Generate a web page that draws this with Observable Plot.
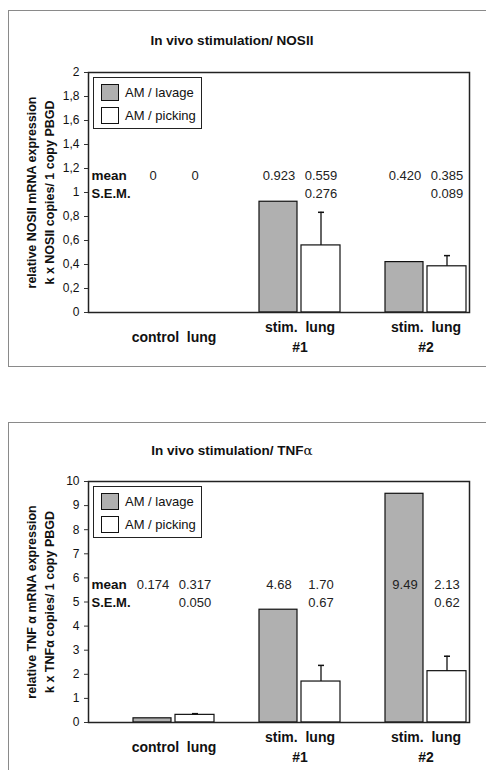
<!DOCTYPE html>
<html>
<head>
<meta charset="utf-8">
<script src="https://cdn.jsdelivr.net/npm/d3@7"></script>
<script src="https://cdn.jsdelivr.net/npm/@observablehq/plot@0.6"></script>
<style>
  html, body { margin: 0; padding: 0; background: #fff; overflow: hidden; }
  body { position: relative; width: 486px; height: 770px; font-family: "Liberation Sans", Arial, sans-serif; color: #111; }
  .panel { position: absolute; left: 0; width: 486px; overflow: hidden; }
  .box { position: absolute; left: 8px; top: 0; width: 700px; border: 1px solid #8a8a8a; }
  .title { position: absolute; left: 0; width: 464px; text-align: center; font-weight: bold; font-size: 13.5px; transform: translateY(-50%); }
  .legend { position: absolute; left: 93px; width: 107px; height: 50px; border: 1.5px solid #222; background: #fff; font-size: 13px; }
  .legend .row { position: absolute; left: 7px; height: 18px; display: flex; align-items: center; }
  .legend .sw { width: 18px; height: 17px; border: 1.2px solid #111; margin-right: 6px; box-sizing: border-box; }
  svg { position: absolute; left: 0; top: 0; }
</style>
</head>
<body>
<script>
// ---- data ----
const groups = ["control  lung", "stim.  lung\n#1", "stim.  lung\n#2"];
const series = ["AM / lavage", "AM / picking"];

// NOSII
const nosLavage = [0, 0.923, 0.420];
const nosPicking = [0, 0.559, 0.385];
const nosPickingSem = [0, 0.276, 0.089];
const nosLavageText = ["0", "0.923", "0.420"];
const nosPickingText = ["0", "0.559", "0.385"];
const nosSemText = ["", "0.276", "0.089"];
const nosYTicks = [0, 0.2, 0.4, 0.6, 0.8, 1, 1.2, 1.4, 1.6, 1.8, 2];

// TNF alpha
const tnfLavage = [0.174, 4.68, 9.49];
const tnfPicking = [0.317, 1.70, 2.13];
const tnfPickingSem = [0.050, 0.67, 0.62];
const tnfLavageText = ["0.174", "4.68", "9.49"];
const tnfPickingText = ["0.317", "1.70", "2.13"];
const tnfSemText = ["0.050", "0.67", "0.62"];
const tnfYTicks = [0, 1, 2, 3, 4, 5, 6, 7, 8, 9, 10];

const FONT = '"Liberation Sans", Arial, sans-serif';
const GRAY = "#b0b0b0";

function rows(lav, pic, sem, lavT, picT, semT) {
  return groups.map((g, i) => ({
    group: g, lavage: lav[i], picking: pic[i], sem: sem[i],
    top: pic[i] + sem[i], lavT: lavT[i], picT: picT[i], semT: semT[i]
  }));
}

function chart(cfg) {
  const panel = document.createElement("div");
  panel.className = "panel";
  panel.style.top = cfg.boxTop + "px";
  panel.style.height = (cfg.boxHeight + 2) + "px";

  const box = document.createElement("div");
  box.className = "box";
  box.style.height = cfg.boxHeight + "px";
  panel.appendChild(box);

  const data = cfg.data;
  const plot = Plot.plot({
    width: 486,
    height: cfg.svgHeight,
    marginTop: cfg.marginTop,
    marginBottom: cfg.svgHeight - cfg.marginTop - cfg.plotHeight,
    marginLeft: 88,
    marginRight: 17,
    style: { fontFamily: FONT, fontSize: "11.5px", color: "#111", background: "transparent", overflow: "visible" },
    x: { domain: groups, paddingInner: 0.354, paddingOuter: 0, insetLeft: 44, insetRight: 1, axis: null },
    y: { domain: cfg.yDomain, axis: null },
    marks: [
      Plot.barY(data, { x: "group", y: "lavage", insetRight: 43, fill: GRAY, stroke: "#111", strokeWidth: 1.2 }),
      Plot.barY(data, { x: "group", y: "picking", insetLeft: 42, fill: "#fff", stroke: "#111", strokeWidth: 1.2 }),
      Plot.ruleX(data.filter(d => d.sem > 0), { x: "group", y1: "picking", y2: "top", dx: 21, stroke: "#111", strokeWidth: 1.3 }),
      Plot.tickY(data.filter(d => d.sem > 0), { y: "top", x: "group", insetLeft: 59, insetRight: 16, stroke: "#111", strokeWidth: 1.5 }),
      Plot.frame({ stroke: "#222", strokeWidth: 1.5 }),
      Plot.axisY({ ticks: cfg.yTicks, tickFormat: d => String(d).replace(".", ","), tickSize: 4, tickPadding: 5, fontSize: 12, stroke: "#333" }),
      Plot.text([cfg.yLabel], { text: d => d, frameAnchor: "left", textAnchor: "middle", rotate: -90, dx: -49, lineAnchor: "middle", lineHeight: 1.45, fontWeight: "bold", fontSize: 12.5 }),
      Plot.text(["mean"], { text: d => d, frameAnchor: "top-left", textAnchor: "start", dx: 3, dy: 98, fontWeight: "bold", fontSize: 13.5 }),
      Plot.text(["S.E.M."], { text: d => d, frameAnchor: "top-left", textAnchor: "start", dx: 3, dy: 116, fontWeight: "bold", fontSize: 13 }),
      Plot.text(data, { x: "group", text: "lavT", frameAnchor: "top", dx: -21, dy: 98, fontSize: 13, fill: "#222" }),
      Plot.text(data, { x: "group", text: "picT", frameAnchor: "top", dx: 21, dy: 98, fontSize: 13, fill: "#222" }),
      Plot.text(data, { x: "group", text: "semT", frameAnchor: "top", dx: 21, dy: 116, fontSize: 13, fill: "#222" }),
      Plot.text(data, { x: "group", text: "group", frameAnchor: "bottom", dy: 23, lineAnchor: "middle", lineHeight: 1.45, fontWeight: "bold", fontSize: 14 })
    ]
  });
  panel.appendChild(plot);

  const title = document.createElement("div");
  title.className = "title";
  title.style.top = cfg.titleY + "px";
  title.innerHTML = cfg.title;
  panel.appendChild(title);

  const legend = document.createElement("div");
  legend.className = "legend";
  legend.style.top = (cfg.marginTop + 5) + "px";
  series.forEach((s, i) => {
    const row = document.createElement("div");
    row.className = "row";
    row.style.top = (5 + i * 23) + "px";
    const sw = document.createElement("div");
    sw.className = "sw";
    sw.style.background = i === 0 ? GRAY : "#fff";
    row.appendChild(sw);
    const t = document.createElement("span");
    t.textContent = s;
    row.appendChild(t);
    legend.appendChild(row);
  });
  panel.appendChild(legend);

  document.body.appendChild(panel);
}

chart({
  boxTop: 10, boxHeight: 355, svgHeight: 355, marginTop: 62, plotHeight: 240,
  titleY: 30, title: "In vivo stimulation/ NOSII",
  yDomain: [0, 2], yTicks: nosYTicks,
  yLabel: "relative NOSII mRNA expression\nk x NOSII copies/ 1 copy PBGD",
  data: rows(nosLavage, nosPicking, nosPickingSem, nosLavageText, nosPickingText, nosSemText)
});

chart({
  boxTop: 422, boxHeight: 360, svgHeight: 348, marginTop: 59, plotHeight: 241,
  titleY: 28, title: "In vivo stimulation/ TNF<span style=\"font-weight:normal;font-family:'DejaVu Serif',serif\">α</span>",
  yDomain: [0, 10], yTicks: tnfYTicks,
  yLabel: "relative TNF α mRNA expression\nk x TNFα copies/ 1 copy PBGD",
  data: rows(tnfLavage, tnfPicking, tnfPickingSem, tnfLavageText, tnfPickingText, tnfSemText)
});
</script>
</body>
</html>
